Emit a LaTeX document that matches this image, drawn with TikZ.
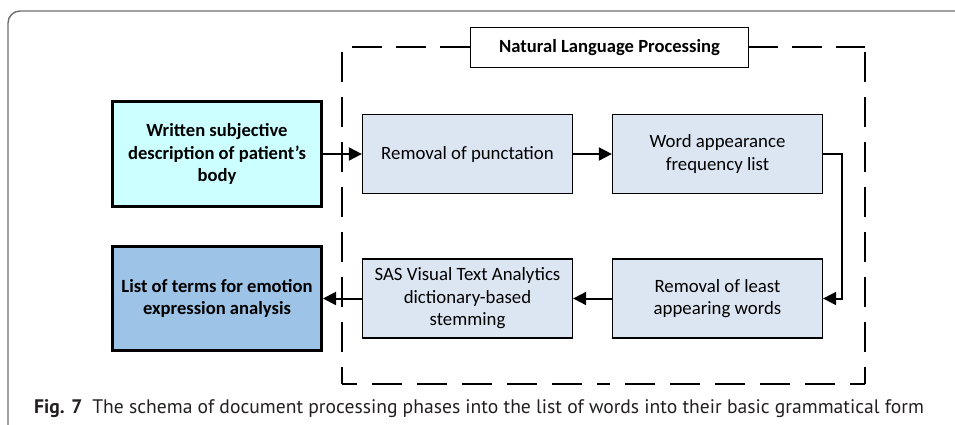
\documentclass[tikz,border=0pt]{standalone}
\usepackage{fontspec}
\setmainfont{Carlito}
\newfontfamily\capfont{PT Sans}
\usetikzlibrary{arrows.meta}
\definecolor{inputfill}{HTML}{CCFFFF}
\definecolor{stagefill}{HTML}{DCE6F2}
\definecolor{outputfill}{HTML}{9DC3E6}
\definecolor{framegray}{HTML}{6E6E6E}
\definecolor{captext}{HTML}{231F20}
\begin{document}
\begin{tikzpicture}[x=1pt,y=-1pt,
  stage/.style={draw=black, line width=1.3pt, fill=stagefill,
    minimum width=210pt, minimum height=79pt, inner sep=2pt,
    align=center, font=\fontsize{18.8}{22.5}\selectfont},
  endpoint/.style={draw=black, line width=3pt,
    minimum width=209pt, minimum height=104pt, inner sep=2pt,
    align=center, font=\fontsize{18.6}{22.5}\selectfont\bfseries},
  titlebox/.style={draw=black, line width=1.3pt, fill=white,
    minimum width=278pt, minimum height=40pt, inner sep=2pt,
    font=\fontsize{18.6}{22}\selectfont\bfseries},
  flow/.style={line width=2pt, -{Triangle[length=13pt,width=13pt]}},
  groupline/.style={line width=2pt, dash pattern=on 30pt off 15pt},
]
\useasboundingbox (0,0) rectangle (955,425);

% outer figure frame
\draw[framegray, line width=1.4pt, rounded corners=12pt]
  (960,11) -- (8,11) -- (8,430);

% corners of the NLP group
\coordinate (gtl) at (342,47);
\coordinate (gtr) at (865,47);
\coordinate (gbl) at (342,384);
\coordinate (gbr) at (865,384);
\coordinate (gbm) at (603.5,384);

% dashed outline of the NLP group
\draw[groupline, dash pattern=on 30pt off 14pt, dash phase=34pt] (gtl) -- (gtr);
\draw[groupline, dash phase=40pt] (gtl) -- (gbl);
\draw[groupline, dash phase=40pt] (gtr) -- (gbr);
\draw[groupline, dash phase=15pt] (gbl) -- (gbm);
\draw[groupline, dash phase=15pt] (gbr) -- (gbm);

\node[titlebox] (nlp) at (609.5,47.5) {Natural Language Processing};

% processing stages
\node[endpoint, fill=inputfill] (input) at (217,154)
  {Written subjective\\description of patient’s\\body};
\node[stage] (punct) at (467.5,154) {Removal of punctation};
\node[stage] (freq) at (717.5,154) {Word appearance\\frequency list};
\node[stage] (least) at (717.5,298.5) {Removal of least\\appearing words};
\node[stage] (stem) at (467.5,298.5) {SAS Visual Text Analytics\\dictionary-based\\stemming};
\node[endpoint, fill=outputfill] (output) at (217,298.5)
  {List of terms for emotion\\expression analysis};

% connectors
\draw[flow] (input.east) -- (punct.west);
\draw[flow] (punct.east) -- (freq.west);
\draw[flow] (freq.east) -- ++(19,0) |- (least.east);
\draw[flow] (least.west) -- (stem.east);
\draw[flow] (stem.west) -- (output.east);

% caption
\node[anchor=base west, inner sep=0pt, text=captext,
  font=\capfont\fontsize{19.6}{22}\selectfont] (caption) at (34,413.5)
  {\textbf{Fig. 7}\hspace{0.5em}The schema of document processing phases into the list of words into their basic grammatical form};
\end{tikzpicture}
\end{document}
